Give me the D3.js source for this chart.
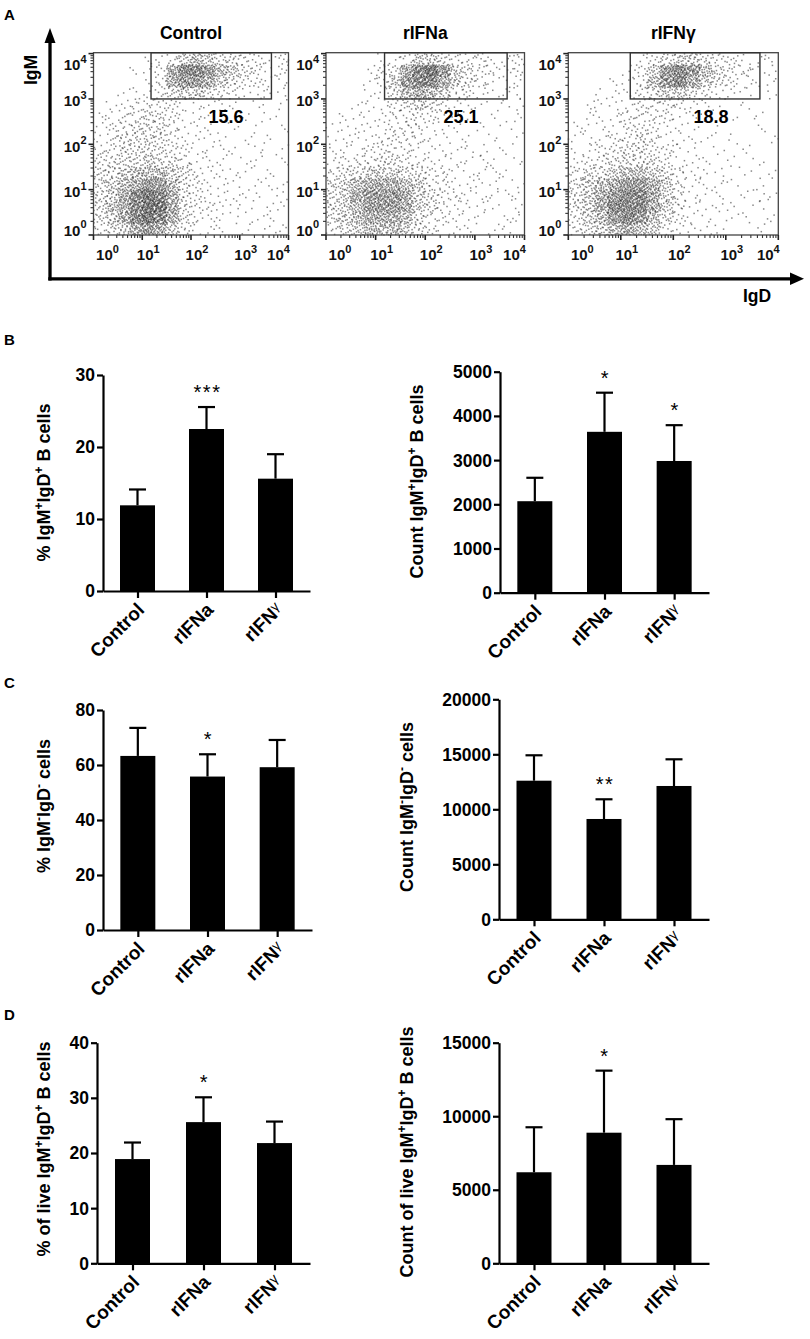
<!DOCTYPE html>
<html><head><meta charset="utf-8">
<script src="https://cdnjs.cloudflare.com/ajax/libs/d3/7.8.5/d3.min.js"></script>
<style>
body{margin:0;background:#fff}
svg{display:block}
text{font-family:"Liberation Sans",Arial,sans-serif}
</style>
</head><body>
<svg id="c" width="810" height="1339"></svg>
<script>
// ---------------- DATA ----------------
const categories = ["Control", "rIFNa", "rIFNγ"];

const pctDP      = [11.9, 22.5, 15.6];
const pctDP_sd   = [2.2, 3.05, 3.4];
const pctDP_sig  = ["", "***", ""];
const cntDP      = [2070, 3640, 2980];
const cntDP_sd   = [530, 885, 810];
const cntDP_sig  = ["", "*", "*"];
const pctDN      = [63.3, 55.8, 59.2];
const pctDN_sd   = [10.2, 8.1, 9.9];
const pctDN_sig  = ["", "*", ""];
const cntDN      = [12600, 9120, 12120];
const cntDN_sd   = [2310, 1790, 2425];
const cntDN_sig  = ["", "**", ""];
const pctLive    = [18.9, 25.6, 21.8];
const pctLive_sd = [3.0, 4.5, 3.9];
const pctLive_sig= ["", "*", ""];
const cntLive    = [6190, 8880, 6690];
const cntLive_sd = [3060, 4220, 3110];
const cntLive_sig= ["", "*", ""];

const ticksPctDP   = [0, 10, 20, 30];
const ticksCntDP   = [0, 1000, 2000, 3000, 4000, 5000];
const ticksPctDN   = [0, 20, 40, 60, 80];
const ticksCntDN   = [0, 5000, 10000, 15000, 20000];
const ticksPctLive = [0, 10, 20, 30, 40];
const ticksCntLive = [0, 5000, 10000, 15000];

// flow cytometry (panel A)
const flowTitles = ["Control", "rIFNa", "rIFNγ"];
const gatePct    = ["15.6", "25.1", "18.8"];
const gateIgD    = [1.18, 3.65];   // log10 decades
const gateIgM    = [3.0, 4.02];
const flowDecades = [0, 1, 2, 3, 4];
// density grids: rows = IgM (top 3.75-4 ... bottom 0-0.25), cols = IgD (0 ... 4), step 0.25 decade
const flowControl = [
 "0000112454332212",
 "0001126887543212",
 "0000126776432211",
 "0011123443221111",
 "0112222111110101",
 "1122332111101010",
 "1223332111010101",
 "1233332111101010",
 "2233332211110101",
 "2333433211101101",
 "3345554321111010",
 "3456775321110111",
 "3468986321111101",
 "3568996322111011",
 "3468986321110110",
 "2346764211101011"
];
const flowIFNa = [
 "0000112443222112",
 "0001236897432212",
 "0001247886432111",
 "0001135654221111",
 "0011123432111011",
 "0111122221110101",
 "1111122211101010",
 "1111222211010101",
 "1112222111111010",
 "1222332211111101",
 "2334443322111110",
 "3456665422111101",
 "3467776432211111",
 "3457776432111101",
 "3456665322111011",
 "2345554321110110"
];
const flowIFNg = [
 "0000012344322111",
 "0000124787532211",
 "0001125786432111",
 "0011123443211101",
 "0111122221110100",
 "0111222211101010",
 "1111222111010010",
 "1112232111101001",
 "1122332211010100",
 "1223333211101010",
 "2334554321110101",
 "3456776421111010",
 "3467886421110111",
 "3468886421111010",
 "2457875321101101",
 "2345654211110010"
];
const levelCount = [0, 3, 7, 12, 19, 28, 38, 50, 64, 80];

// ---------------- DRAWING ----------------
const svg = d3.select("#c");

function halton(i, b) { let f = 1, r = 0; while (i > 0) { f /= b; r += f * (i % b); i = Math.floor(i / b); } return r; }
let hIdx = 1;

function addSupText(sel, str, supSize, shift) {
  const parts = str.split(/(\^.)/).filter(s => s.length);
  let prevSup = false;
  parts.forEach(p => {
    if (p[0] === "^") {
      sel.append("tspan").attr("font-size", supSize).attr("dy", -shift).text(p.slice(1));
      prevSup = true;
    } else {
      const t = sel.append("tspan").text(p);
      if (prevSup) t.attr("dy", shift);
      prevSup = false;
    }
  });
}

function catLabel(sel, name, size) {
  if (name.endsWith("γ")) {
    sel.append("tspan").text(name.slice(0, -1));
    sel.append("tspan").attr("font-size", size * 0.72).attr("font-weight", "normal").attr("dy", -5).text("γ");
  } else sel.text(name);
}

// -------- Panel A: flow plots --------
function flowPlot(o) {
  const x = d3.scaleLinear().domain([0, 4]).range([o.left, o.right]);
  const y = d3.scaleLinear().domain([0, 4.02]).range([o.bottom, o.top]);
  const g = svg.append("g");
  const nR = o.grid.length, nC = o.grid[0].length;
  const cw = 4 / nC, ch = 4 / nR;
  const area = (x(cw) - x(0)) * (y(0) - y(ch));
  const pts = [];
  o.grid.forEach((row, ri) => {
    const yb = 4 - (ri + 1) * ch;
    for (let ci = 0; ci < nC; ci++) {
      const n = Math.round(levelCount[+row[ci]] * area / 138);
      for (let k = 0; k < n; k++) {
        const u = halton(hIdx, 2), v = halton(hIdx, 3); hIdx++;
        pts.push([ci * cw + u * cw, yb + v * ch]);
      }
    }
  });
  g.append("g").selectAll("rect").data(pts).join("rect")
    .attr("x", d => x(d[0]) - 0.75).attr("y", d => y(d[1]) - 0.75)
    .attr("width", 1.5).attr("height", 1.5)
    .attr("fill", "#111").attr("fill-opacity", 0.5);

  g.append("rect").attr("x", o.left).attr("y", o.top)
    .attr("width", o.right - o.left).attr("height", o.bottom - o.top)
    .attr("fill", "none").attr("stroke", "#444").attr("stroke-width", 1.3);
  g.append("rect").attr("x", x(gateIgD[0])).attr("y", y(gateIgM[1]))
    .attr("width", x(gateIgD[1]) - x(gateIgD[0])).attr("height", y(gateIgM[0]) - y(gateIgM[1]))
    .attr("fill", "none").attr("stroke", "#333").attr("stroke-width", 1.4);

  const minor = [];
  flowDecades.slice(0, -1).forEach(d => { for (let k = 2; k <= 9; k++) minor.push(d + Math.log10(k)); });
  g.append("g").selectAll("line").data(flowDecades).join("line")
    .attr("x1", d => x(d)).attr("x2", d => x(d)).attr("y1", o.bottom).attr("y2", o.bottom + 5)
    .attr("stroke", "#222").attr("stroke-width", 1.6);
  g.append("g").selectAll("line").data(minor).join("line")
    .attr("x1", d => x(d)).attr("x2", d => x(d)).attr("y1", o.bottom).attr("y2", o.bottom + 3)
    .attr("stroke", "#333").attr("stroke-width", 1.1);
  g.append("g").selectAll("line").data(flowDecades).join("line")
    .attr("y1", d => y(d)).attr("y2", d => y(d)).attr("x1", o.left).attr("x2", o.left - 5)
    .attr("stroke", "#222").attr("stroke-width", 1.6);
  g.append("g").selectAll("line").data(minor).join("line")
    .attr("y1", d => y(d)).attr("y2", d => y(d)).attr("x1", o.left).attr("x2", o.left - 3)
    .attr("stroke", "#333").attr("stroke-width", 1.1);

  const xl = g.append("g").selectAll("text").data(flowDecades).join("text")
    .attr("x", d => x(d) + (d === 0 ? 14 : d === 4 ? -10 : 6))
    .attr("y", o.bottom + 25).attr("text-anchor", "middle")
    .attr("font-weight", "bold").attr("font-size", 15).attr("fill", "#111");
  xl.each(function(d) { const t = d3.select(this); t.append("tspan").text("10"); t.append("tspan").attr("font-size", 11).attr("dy", -7.5).text(d); });
  const yl = g.append("g").selectAll("text").data(flowDecades).join("text")
    .attr("x", o.left - 7)
    .attr("y", d => y(d) + (d === 0 ? -5 : d === 4 ? 11 : 2) + 5.5)
    .attr("text-anchor", "end")
    .attr("font-weight", "bold").attr("font-size", 15).attr("fill", "#111");
  yl.each(function(d) { const t = d3.select(this); t.append("tspan").text("10"); t.append("tspan").attr("font-size", 11).attr("dy", -7.5).text(d); });

  g.append("text").attr("x", (o.left + o.right) / 2).attr("y", 39)
    .attr("text-anchor", "middle").attr("font-weight", "bold").attr("font-size", 17.5).text(o.title);
  g.append("text").attr("x", x(2.72)).attr("y", 123)
    .attr("text-anchor", "middle").attr("font-weight", "bold").attr("font-size", 18).text(o.pct);
}

flowPlot({ left: 93.5, right: 288.5, top: 52.7, bottom: 235, grid: flowControl, title: flowTitles[0], pct: gatePct[0] });
flowPlot({ left: 326, right: 524.5, top: 52.7, bottom: 235, grid: flowIFNa, title: flowTitles[1], pct: gatePct[1] });
flowPlot({ left: 568.3, right: 778.3, top: 52.7, bottom: 235, grid: flowIFNg, title: flowTitles[2], pct: gatePct[2] });

// big axis arrows
svg.append("line").attr("x1", 50).attr("y1", 280.5).attr("x2", 50).attr("y2", 40).attr("stroke", "#000").attr("stroke-width", 3.3);
svg.append("path").attr("d", "M50,28 L44.5,43 L55.5,43 Z").attr("fill", "#000");
svg.append("line").attr("x1", 48.3).attr("y1", 278.8).attr("x2", 792).attr("y2", 278.8).attr("stroke", "#000").attr("stroke-width", 3.3);
svg.append("path").attr("d", "M804,278.8 L790,272.5 L790,285 Z").attr("fill", "#000");
svg.append("text").attr("transform", "translate(37,70) rotate(-90)").attr("text-anchor", "middle")
  .attr("font-weight", "bold").attr("font-size", 17.5).text("IgM");
svg.append("text").attr("x", 757).attr("y", 302).attr("text-anchor", "middle")
  .attr("font-weight", "bold").attr("font-size", 17.5).text("IgD");

[["A", 20], ["B", 345], ["C", 688], ["D", 1020]].forEach(([l, yy]) => {
  svg.append("text").attr("x", 4).attr("y", yy).attr("font-weight", "bold").attr("font-size", 15).text(l);
});

// -------- Bar panels --------
function barPanel(o) {
  const g = svg.append("g");
  const x = d3.scalePoint().domain(categories).range([o.left, o.right]).padding(0.5);
  const y = d3.scaleLinear().domain([0, o.max]).range([o.bottom, o.top]);
  const bw = 35, cap = 17;
  const rows = categories.map((c, i) => ({ c, m: o.mean[i], sd: o.sd[i], sig: o.sig[i] }));

  g.selectAll("rect.bar").data(rows).join("rect").attr("class", "bar")
    .attr("x", d => x(d.c) - bw / 2).attr("y", d => y(d.m))
    .attr("width", bw).attr("height", d => y(0) - y(d.m)).attr("fill", "#000");
  g.selectAll("line.eb").data(rows).join("line").attr("class", "eb")
    .attr("x1", d => x(d.c)).attr("x2", d => x(d.c))
    .attr("y1", d => y(d.m)).attr("y2", d => y(d.m + d.sd))
    .attr("stroke", "#000").attr("stroke-width", 2.2);
  g.selectAll("line.cap").data(rows).join("line").attr("class", "cap")
    .attr("x1", d => x(d.c) - cap / 2).attr("x2", d => x(d.c) + cap / 2)
    .attr("y1", d => y(d.m + d.sd)).attr("y2", d => y(d.m + d.sd))
    .attr("stroke", "#000").attr("stroke-width", 2.2);
  g.selectAll("text.sig").data(rows.filter(d => d.sig)).join("text").attr("class", "sig")
    .attr("x", d => x(d.c) + 1).attr("y", d => y(d.m + d.sd) - 8)
    .attr("text-anchor", "middle").attr("font-size", 20).attr("letter-spacing", 1.5)
    .text(d => d.sig);

  const gy = g.append("g").attr("transform", `translate(${o.left},0)`)
    .call(d3.axisLeft(y).tickValues(o.ticks).tickSize(6).tickSizeOuter(0).tickPadding(2).tickFormat(d3.format("d")));
  gy.select(".domain").attr("stroke", "#000").attr("stroke-width", 2.2);
  gy.selectAll(".tick line").attr("stroke", "#000").attr("stroke-width", 2.2);
  gy.selectAll(".tick text").attr("font-family", '"Liberation Sans", Arial, sans-serif').attr("font-weight", "bold")
    .attr("font-size", 17.5).attr("fill", "#000").attr("dy", "0.34em");

  const gx = g.append("g").attr("transform", `translate(0,${o.bottom})`)
    .call(d3.axisBottom(x).tickSize(7).tickSizeOuter(0).tickFormat(""));
  gx.select(".domain").attr("stroke", "#000").attr("stroke-width", 2.2);
  gx.selectAll(".tick line").attr("stroke", "#000").attr("stroke-width", 2.2);
  g.selectAll("text.cat").data(categories).join("text").attr("class", "cat")
    .attr("transform", c => `translate(${x(c) + 8},${o.bottom + 20}) rotate(-45)`)
    .attr("text-anchor", "end").attr("font-weight", "bold").attr("font-size", 19)
    .each(function(c) { catLabel(d3.select(this), c, 19); });

  const t = g.append("text").attr("transform", `translate(${o.tx},${o.ty}) rotate(-90)`)
    .attr("text-anchor", "middle").attr("font-weight", "bold").attr("font-size", 18);
  addSupText(t, o.title, 12, 7);
}

barPanel({ left: 103, right: 310, bottom: 591, top: 375, max: 30, ticks: ticksPctDP,
  mean: pctDP, sd: pctDP_sd, sig: pctDP_sig, title: "% IgM^+IgD^+ B cells", tx: 50, ty: 482.5 });
barPanel({ left: 500, right: 709, bottom: 592.7, top: 371.7, max: 5000, ticks: ticksCntDP,
  mean: cntDP, sd: cntDP_sd, sig: cntDP_sig, title: "Count IgM^+IgD^+ B cells", tx: 423, ty: 481.5 });
barPanel({ left: 103, right: 312, bottom: 930, top: 710, max: 80, ticks: ticksPctDN,
  mean: pctDN, sd: pctDN_sd, sig: pctDN_sig, title: "% IgM^-IgD^- cells", tx: 50, ty: 806 });
barPanel({ left: 499, right: 709, bottom: 919.3, top: 699.3, max: 20000, ticks: ticksCntDN,
  mean: cntDN, sd: cntDN_sd, sig: cntDN_sig, title: "Count IgM^-IgD^- cells", tx: 413, ty: 807 });
barPanel({ left: 97, right: 310, bottom: 1263.3, top: 1042.7, max: 40, ticks: ticksPctLive,
  mean: pctLive, sd: pctLive_sd, sig: pctLive_sig, title: "% of live IgM^+IgD^+ B cells", tx: 50, ty: 1149 });
barPanel({ left: 499, right: 709, bottom: 1263.3, top: 1042.7, max: 15000, ticks: ticksCntLive,
  mean: cntLive, sd: cntLive_sd, sig: cntLive_sig, title: "Count of live IgM^+IgD^+ B cells", tx: 413, ty: 1152 });
</script>
</body></html>
